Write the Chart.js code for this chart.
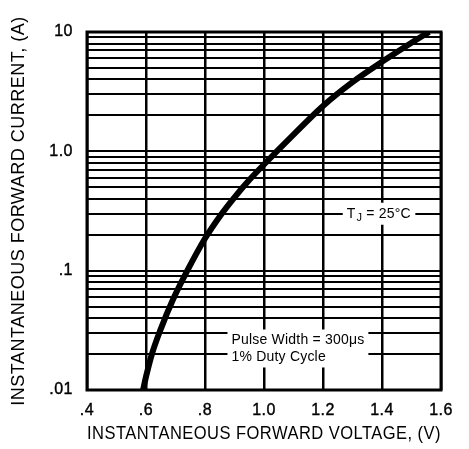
<!DOCTYPE html>
<html>
<head>
<meta charset="utf-8">
<script src="https://cdn.jsdelivr.net/npm/chart.js@4.4.1/dist/chart.umd.min.js"></script>
<style>
  body { margin: 0; background: #fff; }
  #wrap { width: 469px; height: 449px; }
</style>
</head>
<body>
<div id="wrap"><canvas id="fwd-chart" width="469" height="449"></canvas></div>
<script>
// forward voltage (V) vs forward current (A)
const voltage = [0.59, 0.6, 0.62, 0.65, 0.69, 0.74, 0.8, 0.85, 0.9, 0.95, 1.0, 1.1, 1.2, 1.3, 1.4, 1.5, 1.56]
const current = [0.01, 0.0129, 0.02, 0.0324, 0.0562, 0.1, 0.186, 0.285, 0.412, 0.575, 0.776, 1.38, 2.4, 3.8, 5.62, 8.13, 10]

const xTicks = [0.4, 0.6, 0.8, 1.0, 1.2, 1.4, 1.6]
const xTickLabels = [".4", ".6", ".8", "1.0", "1.2", "1.4", "1.6"]
const yDecades = [0.01, 0.1, 1, 10]
const yTickLabels = [".01", ".1", "1.0", "10"]
const yMinor = [1, 2, 3, 4, 5, 6, 7, 8, 9]

const notes = [
    {lines: [["T", "J", " = 25°C"]], x: 1.39, y: 0.3},
    {lines: [["Pulse Width = 300μs"], ["1% Duty Cycle"]], x: 1.115, y: 0.026}
]

const FONT = "'Liberation Sans', Arial, sans-serif"

function yGridValues() {
    let vals = []
    yDecades.forEach((d, i) => {
        if (i == yDecades.length - 1) { vals.push(d); return }
        yMinor.forEach(m => vals.push(+(d * m).toPrecision(3)))
    })
    return vals
}

// white boxes with the condition notes, sitting on the grid
const notesPlugin = {
    id: 'notes',
    beforeDraw(chart) {
        chart.ctx.letterSpacing = '0.5px'
    },
    afterDatasetsDraw(chart) {
        const ctx = chart.ctx
        const xs = chart.scales.x, ys = chart.scales.y
        ctx.save()
        ctx.letterSpacing = '0.2px'
        ctx.font = "14px " + FONT
        ctx.textBaseline = 'middle'
        ctx.textAlign = 'left'
        notes.forEach(n => {
            let cx = xs.getPixelForValue(n.x)
            let cy = ys.getPixelForValue(n.y)
            let w = 0
            n.lines.forEach(l => {
                let lw = ctx.measureText(l.join('')).width
                if (lw > w) w = lw
            })
            let h = n.lines.length * 16 + 6
            let left = cx - w / 2 - 4
            let top = cy - 11
            ctx.fillStyle = '#fff'
            ctx.fillRect(left, top, w + 8, h)
            ctx.fillStyle = '#000'
            n.lines.forEach((l, i) => {
                let tx = cx - w / 2
                let ty = cy + i * 17
                if (l.length == 3) {
                    ctx.font = "14px " + FONT
                    ctx.fillText(l[0], tx, ty)
                    tx += ctx.measureText(l[0]).width + 1
                    ctx.font = "11px " + FONT
                    ctx.fillText(l[1], tx, ty + 4)
                    tx += ctx.measureText(l[1]).width
                    ctx.font = "14px " + FONT
                    ctx.fillText(l[2], tx, ty)
                } else {
                    ctx.fillText(l[0], tx, ty)
                }
            })
        })
        // frame
        const a = chart.chartArea
        ctx.lineWidth = 3
        ctx.strokeStyle = '#000'
        ctx.strokeRect(a.left, a.top, a.right - a.left, a.bottom - a.top)
        ctx.restore()
    }
}

function makeChart() {
    let canvas = document.getElementById('fwd-chart')
    return new Chart(canvas, {
        type: 'line',
        data: {
            datasets: [{
                data: voltage.map((v, i) => ({x: v, y: current[i]})),
                borderColor: '#000',
                borderWidth: 6,
                pointRadius: 0,
                cubicInterpolationMode: 'monotone',
                fill: false
            }]
        },
        plugins: [notesPlugin],
        options: {
            responsive: false,
            animation: false,
            layout: {padding: {top: 32, right: 28, left: 0, bottom: 0}},
            plugins: {legend: {display: false}, tooltip: {enabled: false}},
            scales: {
                x: {
                    type: 'linear',
                    min: 0.4,
                    max: 1.6,
                    afterBuildTicks: s => { s.ticks = xTicks.map(v => ({value: v})) },
                    afterFit: s => { s.height = 59 },
                    grid: {color: '#000', lineWidth: 2.5, drawTicks: false},
                    border: {display: false},
                    ticks: {
                        color: '#000',
                        padding: 11,
                        textStrokeColor: '#000',
                        textStrokeWidth: 0.4,
                        font: {family: FONT, size: 16},
                        callback: (v) => {
                            let i = xTicks.findIndex(t => Math.abs(t - v) < 1e-6)
                            return i >= 0 ? xTickLabels[i] : ''
                        }
                    },
                    title: {
                        display: true,
                        text: 'INSTANTANEOUS FORWARD VOLTAGE, (V)',
                        color: '#000',
                        font: {family: FONT, size: 18},
                        padding: {top: 2}
                    }
                },
                y: {
                    type: 'logarithmic',
                    min: 0.01,
                    max: 10,
                    afterBuildTicks: s => { s.ticks = yGridValues().map(v => ({value: v})) },
                    afterFit: s => { s.width = 87 },
                    grid: {color: '#000', lineWidth: 2, drawTicks: false},
                    border: {display: false},
                    ticks: {
                        color: '#000',
                        padding: 14,
                        autoSkip: false,
                        textStrokeColor: '#000',
                        textStrokeWidth: 0.4,
                        font: {family: FONT, size: 16},
                        callback: (v) => {
                            let i = yDecades.findIndex(t => Math.abs(t - v) / t < 1e-6)
                            return i >= 0 ? yTickLabels[i] : ''
                        }
                    },
                    title: {
                        display: true,
                        text: 'INSTANTANEOUS FORWARD CURRENT, (A)',
                        color: '#000',
                        font: {family: FONT, size: 18},
                        padding: {top: 8, bottom: 0}
                    }
                }
            }
        }
    })
}

fwdChart = makeChart()
</script>
</body>
</html>
